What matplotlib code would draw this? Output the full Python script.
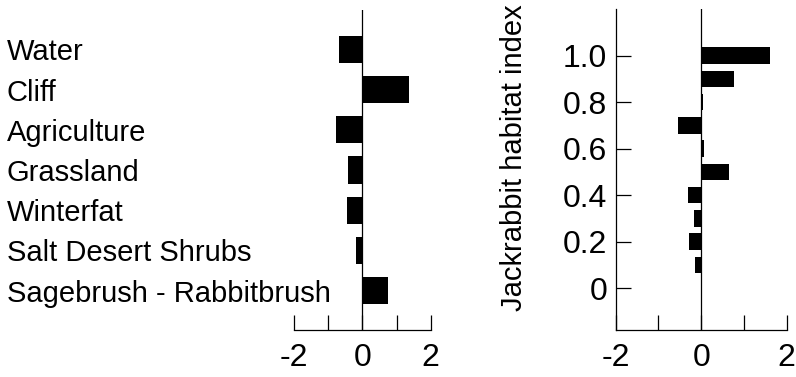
import matplotlib
matplotlib.use("Agg")
import matplotlib.pyplot as plt
from matplotlib.transforms import blended_transform_factory

plt.rcParams["font.family"] = ["Liberation Sans", "DejaVu Sans"]

# left panel: land-cover categories (top to bottom)
categories = ["Water", "Cliff", "Agriculture", "Grassland", "Winterfat",
              "Salt Desert Shrubs", "Sagebrush - Rabbitbrush"]
cat_values = [-0.68, 1.36, -0.78, -0.41, -0.44, -0.18, 0.74]

# right panel: habitat index classes
index_levels = [1.0, 0.9, 0.8, 0.7, 0.6, 0.5, 0.4, 0.3, 0.2, 0.1]
index_values = [1.61, 0.77, 0.05, -0.55, 0.07, 0.64, -0.30, -0.16, -0.28, -0.14]

x_ticks = [-2, -1, 0, 1, 2]
x_ticklabels = ["-2", "", "0", "", "2"]
y_ticks = [0, 0.2, 0.4, 0.6, 0.8, 1.0]
y_ticklabels = ["0", "0.2", "0.4", "0.6", "0.8", "1.0"]

W, H = 796, 377
fig = plt.figure(figsize=(W / 100, H / 100), dpi=100)

LW = 0.9
FS = 21      # category / axis label text
TFS = 23     # tick labels

# ---- left panel
ax1 = fig.add_axes([294 / W, 47 / H, 136.7 / W, 320 / H])
ypos = list(range(len(categories)))[::-1]
ax1.barh(ypos, cat_values, height=0.68, color="black")
ax1.axvline(0, color="black", lw=LW)
ax1.set_xlim(-2, 2)
ax1.set_ylim(-0.98, 6.98)
ax1.set_yticks([])
for s in ["left", "right", "top"]:
    ax1.spines[s].set_visible(False)
ax1.spines["bottom"].set_linewidth(LW)
ax1.set_xticks(x_ticks)
ax1.set_xticklabels(x_ticklabels, fontsize=TFS)
ax1.tick_params(axis="x", direction="in", length=10.8, width=LW, pad=9)
tr = blended_transform_factory(fig.transFigure, ax1.transData)
for y, lab in zip(ypos, categories):
    ax1.text(7 / W, y, lab, transform=tr, ha="left", va="center_baseline",
             fontsize=FS)

# ---- right panel
ax2 = fig.add_axes([615.7 / W, 47 / H, 171 / W, 321 / H])
ax2.barh(index_levels, index_values, height=0.071, color="black")
ax2.axvline(0, color="black", lw=LW)
ax2.set_xlim(-2, 2)
ax2.set_ylim(-0.18, 1.2)
for s in ["right", "top"]:
    ax2.spines[s].set_visible(False)
for s in ["left", "bottom"]:
    ax2.spines[s].set_linewidth(LW)
ax2.set_xticks(x_ticks)
ax2.set_xticklabels(x_ticklabels, fontsize=TFS)
ax2.set_yticks(y_ticks)
ax2.set_yticklabels(y_ticklabels, fontsize=TFS)
ax2.tick_params(axis="x", direction="in", length=10.8, width=LW, pad=9)
ax2.tick_params(axis="y", direction="in", length=10.8, width=LW, pad=6)
ax2.set_ylabel("Jackrabbit habitat index", fontsize=FS)
ax2.yaxis.set_label_coords(-0.513, 0.537)

fig.savefig("out.png", dpi=100)
